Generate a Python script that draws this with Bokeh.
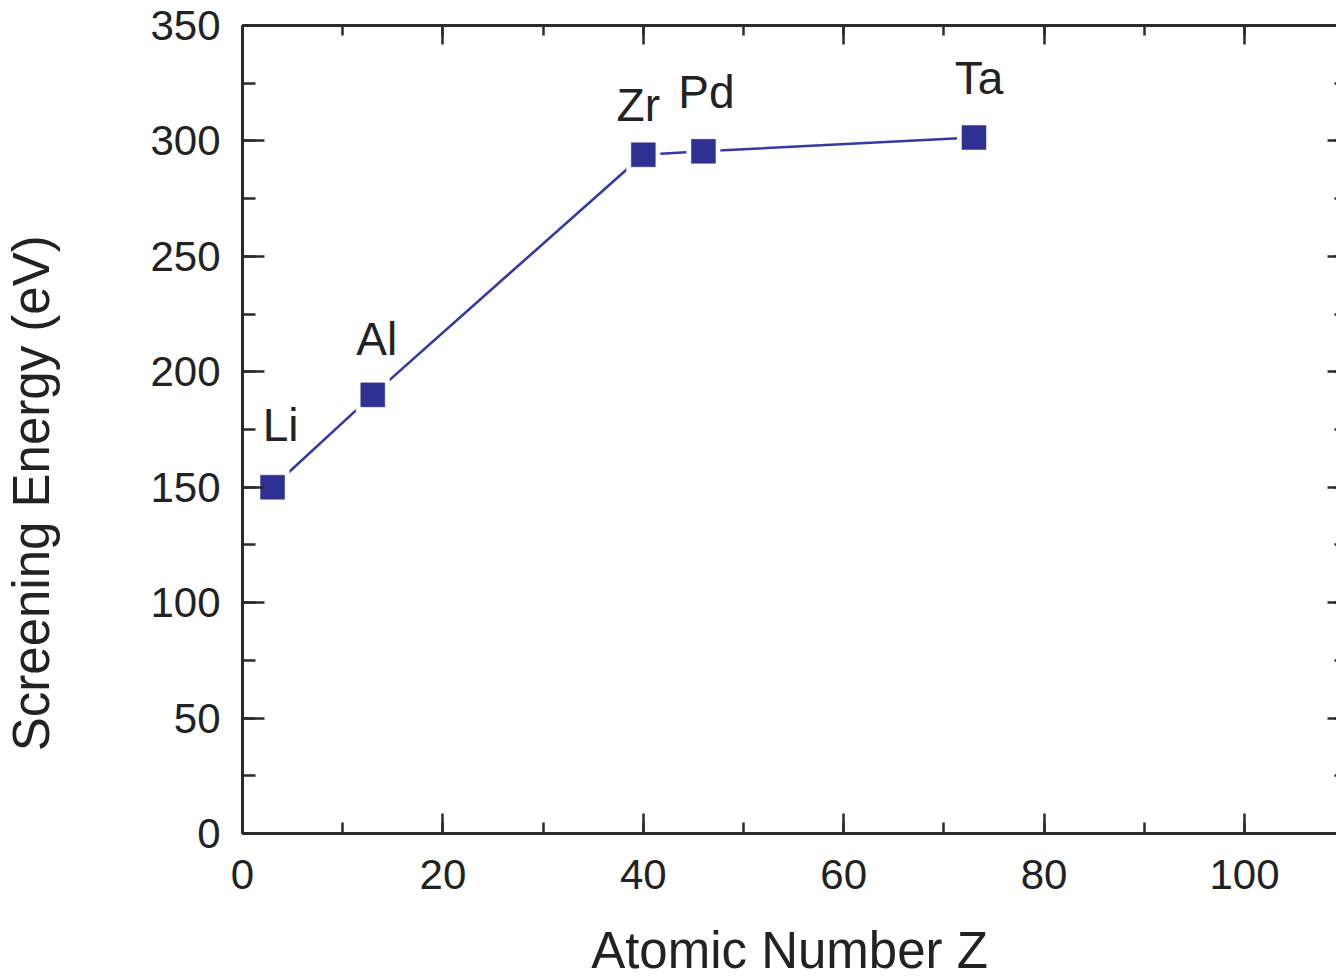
from bokeh.plotting import figure
from bokeh.models import (LinearAxis, SingleIntervalTicker, Range1d,
                          ColumnDataSource)
from bokeh.core.properties import value
from bokeh.embed import file_html
from bokeh.resources import INLINE

# ---- data ----
elements = ["Li", "Al", "Zr", "Pd", "Ta"]
atomic_number = [3, 13, 40, 46, 73]
screening_energy = [150, 190, 294, 295.5, 301.5]

# label offsets (screen px, style only)
label_dx = [8, 4, -5, 3, 5]
label_dy = [-62, -56, -50, -59, -59]

x_title = "Atomic Number Z"
y_title = "Screening Energy (eV)"

FONT = "Liberation Sans"
AXC = "#2b2b2b"
BLUE = "#2e3192"
LINE_BLUE = "#3439a3"

src = ColumnDataSource(dict(x=atomic_number, y=screening_energy, name=elements,
                            dx=label_dx, dy=label_dy))

p = figure(frame_width=1094, frame_height=808,
           min_border_left=242, min_border_right=0,
           min_border_top=25, min_border_bottom=137,
           x_range=Range1d(0, 109.18), y_range=Range1d(0, 350),
           output_backend="svg", toolbar_location=None,
           background_fill_color="white", border_fill_color="white")
p.outline_line_color = None
p.xgrid.visible = False
p.ygrid.visible = False

# line with gaps around markers
p.line("x", "y", source=src, line_color=LINE_BLUE, line_width=2.6)
p.scatter("x", "y", source=src, marker="square", size=34,
          fill_color="white", line_color=None)
p.scatter("x", "y", source=src, marker="square", size=24,
          fill_color=BLUE, line_color=BLUE, line_width=0.5)

p.text("x", "y", text="name", source=src, x_offset="dx", y_offset="dy",
       text_font=value(FONT), text_font_size="46px", text_color="#222222",
       text_align="center", text_baseline="alphabetic")

def style_axis(ax, major_in, minor_in):
    ax.axis_line_color = AXC
    ax.axis_line_width = 3
    ax.major_tick_line_color = AXC
    ax.minor_tick_line_color = AXC
    ax.major_tick_line_width = 2.5
    ax.minor_tick_line_width = 2.5
    ax.major_tick_in = major_in
    ax.major_tick_out = 0
    ax.minor_tick_in = minor_in
    ax.minor_tick_out = 0
    ax.major_label_text_font = FONT
    ax.major_label_text_color = "#222222"
    ax.major_label_text_font_size = "42px"

xt = SingleIntervalTicker(interval=20, num_minor_ticks=2)
yt = SingleIntervalTicker(interval=50, num_minor_ticks=2)

xa = p.xaxis[0]
xa.ticker = xt
style_axis(xa, 20, 11)
xa.major_label_standoff = 26
xa.axis_label = x_title
xa.axis_label_text_font = FONT
xa.axis_label_text_font_size = "51px"
xa.axis_label_text_font_style = "normal"
xa.axis_label_text_color = "#222222"
xa.axis_label_standoff = 30

ya = p.yaxis[0]
ya.ticker = yt
style_axis(ya, 22, 13)
ya.major_label_standoff = 22
# trailing no-break spaces shift the visible title below the frame centre,
# as in the reference
ya.axis_label = y_title + "\u00a0" * 9
ya.axis_label_text_font = FONT
ya.axis_label_text_font_size = "51px"
ya.axis_label_text_font_style = "normal"
ya.axis_label_text_color = "#222222"
ya.axis_label_standoff = 87

top = LinearAxis(ticker=SingleIntervalTicker(interval=20, num_minor_ticks=2))
style_axis(top, 19, 10)
top.major_label_overrides = {v: "" for v in range(0, 121, 20)}
top.major_label_text_font_size = "1px"
top.major_label_standoff = 0
p.add_layout(top, "above")

right = LinearAxis(ticker=SingleIntervalTicker(interval=50, num_minor_ticks=2))
style_axis(right, 9, 2)
right.axis_line_color = None
right.major_label_overrides = {v: "" for v in range(0, 351, 50)}
right.major_label_text_font_size = "1px"
right.major_label_standoff = 0
p.add_layout(right, "right")

open("out.html", "w").write(file_html(p, INLINE))
